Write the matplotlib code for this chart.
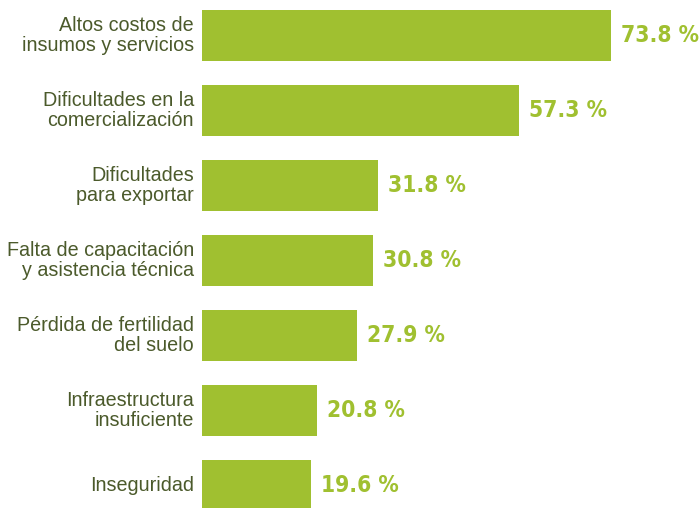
import matplotlib
matplotlib.use('Agg')
import matplotlib.pyplot as plt

# problem categories and share of respondents (%)
categories = [
    'Altos costos de\ninsumos y servicios',
    'Dificultades en la\ncomercialización',
    'Dificultades\npara exportar',
    'Falta de capacitación\ny asistencia técnica',
    'Pérdida de fertilidad\ndel suelo',
    'Infraestructura\ninsuficiente',
    'Inseguridad',
]
values = [73.8, 57.3, 31.8, 30.8, 27.9, 20.8, 19.6]
value_labels = ['73.8 %', '57.3 %', '31.8 %', '30.8 %', '27.9 %', '20.8 %', '19.6 %']

bar_color = '#a0c030'
text_color = '#4b5a2b'

fig = plt.figure(figsize=(7, 5.08), dpi=100)
ax = fig.add_axes([202 / 700, 0, 1 - 202 / 700, 1])

ypos = list(range(len(values)))
ax.barh(ypos, values, height=0.68, color=bar_color)

ax.set_xlim(0, 498 / 5.54)
ax.set_ylim(6.3, -0.473)

# value labels right of each bar
for y, v, lab in zip(ypos, values, value_labels):
    ax.text(v + 1.8, y, lab, ha='left', va='center', fontsize=16.3,
            fontweight='bold', fontstretch='condensed', color=bar_color,
            family='DejaVu Sans')

# category names left of the bars
for y, cat in zip(ypos, categories):
    ax.text(-1.45, y, cat, ha='right', va='center', fontsize=14.2,
            color=text_color, family=['Liberation Sans', 'DejaVu Sans'],
            linespacing=1.1, clip_on=False)

ax.axis('off')

fig.savefig('out.png', dpi=100)
